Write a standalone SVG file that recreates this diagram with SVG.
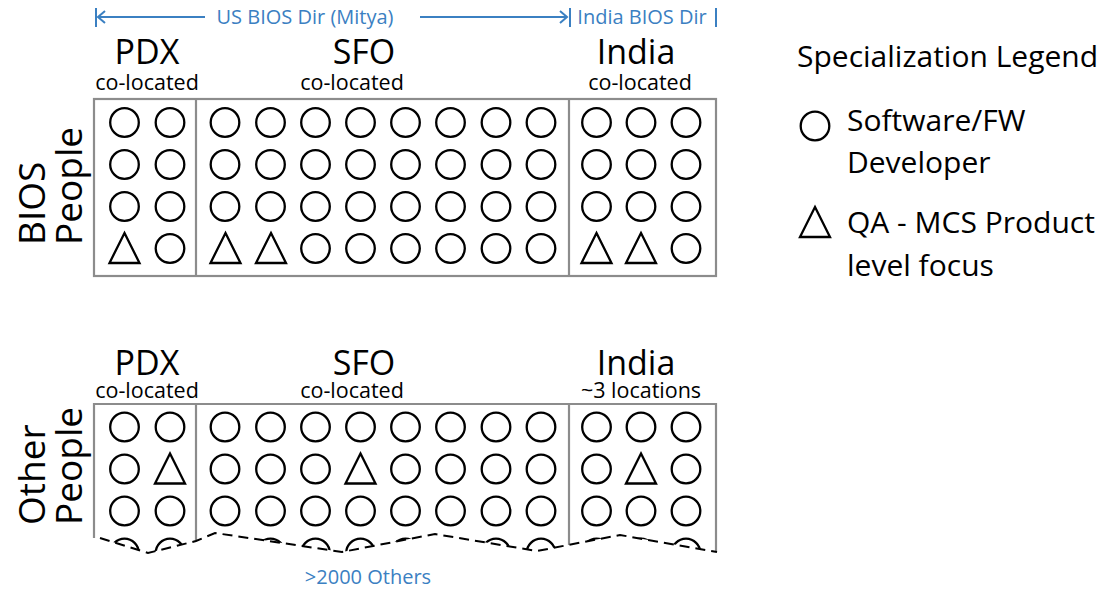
<svg xmlns="http://www.w3.org/2000/svg" width="1105" height="589" viewBox="0 0 1105 589">
<style>
text{font-family:"Open Sans","Noto Sans",sans-serif;fill:#000}
.blue{fill:#3b80c2;font-size:20px}
.bl{stroke:#3b80c2;stroke-width:2;fill:none}
.big{font-size:34px}
.sm{font-size:21.5px}
.side{font-size:37px}
.leg{font-size:30px}
.box{fill:none;stroke:#8c8c8c;stroke-width:2.2}
.c{fill:none;stroke:#000;stroke-width:2.3}
</style>
<defs>
<circle id="o" r="14.3" class="c"/>
<path id="t" d="M0,-15 L15,15 L-15,15 Z" class="c" stroke-linejoin="miter"/>
<clipPath id="torn"><path d="M80,390 L730,390 L730,552 L717,552 L620,535 L537,551 L435,534 L342,552 L215,533 L196,541 L148,553 L100,538 L80,538 Z"/></clipPath>
</defs>
<g id="header">
<path class="bl" d="M96,8 V27 M98,17 H205 M105,11 L98,17 L105,23 M420,17 H567 M560,11 L567,17 L560,23 M570,8 V27 M716,8 V27"/>
<text class="blue" x="305" y="24" text-anchor="middle">US BIOS Dir (Mitya)</text>
<text class="blue" x="642" y="24" text-anchor="middle">India BIOS Dir</text>
</g>
<g id="bios">
<text class="side" transform="translate(45,245) rotate(-90)">BIOS</text>
<text class="side" transform="translate(82,245) rotate(-90)">People</text>
<text class="big" x="147" y="64" text-anchor="middle">PDX</text>
<text class="sm" x="147" y="90" text-anchor="middle">co-located</text>
<text class="big" x="364" y="64" text-anchor="middle">SFO</text>
<text class="sm" x="352" y="90" text-anchor="middle">co-located</text>
<text class="big" x="636" y="64" text-anchor="middle">India</text>
<text class="sm" x="640" y="90" text-anchor="middle">co-located</text>
<rect class="box" x="94" y="99" width="622" height="177"/>
<path class="box" d="M196,99 V276 M569,99 V276"/>
<g id="bios-row1"><use href="#o" x="124.5" y="122.5"/><use href="#o" x="170" y="122.5"/><use href="#o" x="225" y="122.5"/><use href="#o" x="270.5" y="122.5"/><use href="#o" x="315.5" y="122.5"/><use href="#o" x="360.5" y="122.5"/><use href="#o" x="405.5" y="122.5"/><use href="#o" x="450.5" y="122.5"/><use href="#o" x="496" y="122.5"/><use href="#o" x="541" y="122.5"/><use href="#o" x="596.5" y="122.5"/><use href="#o" x="641" y="122.5"/><use href="#o" x="686" y="122.5"/></g>
<g id="bios-row2"><use href="#o" x="124.5" y="164.5"/><use href="#o" x="170" y="164.5"/><use href="#o" x="225" y="164.5"/><use href="#o" x="270.5" y="164.5"/><use href="#o" x="315.5" y="164.5"/><use href="#o" x="360.5" y="164.5"/><use href="#o" x="405.5" y="164.5"/><use href="#o" x="450.5" y="164.5"/><use href="#o" x="496" y="164.5"/><use href="#o" x="541" y="164.5"/><use href="#o" x="596.5" y="164.5"/><use href="#o" x="641" y="164.5"/><use href="#o" x="686" y="164.5"/></g>
<g id="bios-row3"><use href="#o" x="124.5" y="206.5"/><use href="#o" x="170" y="206.5"/><use href="#o" x="225" y="206.5"/><use href="#o" x="270.5" y="206.5"/><use href="#o" x="315.5" y="206.5"/><use href="#o" x="360.5" y="206.5"/><use href="#o" x="405.5" y="206.5"/><use href="#o" x="450.5" y="206.5"/><use href="#o" x="496" y="206.5"/><use href="#o" x="541" y="206.5"/><use href="#o" x="596.5" y="206.5"/><use href="#o" x="641" y="206.5"/><use href="#o" x="686" y="206.5"/></g>
<g id="bios-row4"><use href="#t" x="124.5" y="248"/><use href="#o" x="170" y="248.5"/><use href="#t" x="225.5" y="248"/><use href="#t" x="271" y="248"/><use href="#o" x="315.5" y="248.5"/><use href="#o" x="360.5" y="248.5"/><use href="#o" x="405.5" y="248.5"/><use href="#o" x="450.5" y="248.5"/><use href="#o" x="496" y="248.5"/><use href="#o" x="541" y="248.5"/><use href="#t" x="596.5" y="248"/><use href="#t" x="641" y="248"/><use href="#o" x="686" y="248.5"/></g>
</g>
<g id="other">
<text class="side" transform="translate(45,525) rotate(-90)">Other</text>
<text class="side" transform="translate(82,525) rotate(-90)">People</text>
<text class="big" x="147" y="375" text-anchor="middle">PDX</text>
<text class="sm" x="147" y="398" text-anchor="middle">co-located</text>
<text class="big" x="364" y="375" text-anchor="middle">SFO</text>
<text class="sm" x="352" y="398" text-anchor="middle">co-located</text>
<text class="big" x="636" y="375" text-anchor="middle">India</text>
<text class="sm" x="641" y="398" text-anchor="middle">~3 locations</text>
<g clip-path="url(#torn)">
<path class="box" d="M94,600 V404 H716 V600 M196,404 V600 M569,404 V600"/>
<g id="other-row4"><use href="#o" x="124.5" y="553"/><use href="#o" x="170" y="553"/><use href="#o" x="225" y="553"/><use href="#o" x="270.5" y="553"/><use href="#o" x="315.5" y="553"/><use href="#o" x="360.5" y="553"/><use href="#o" x="405.5" y="553"/><use href="#o" x="450.5" y="553"/><use href="#o" x="496" y="553"/><use href="#o" x="541" y="553"/><use href="#o" x="596.5" y="553"/><use href="#o" x="641" y="553"/><use href="#o" x="686" y="553"/></g>
</g>
<g id="other-row1"><use href="#o" x="124.5" y="427"/><use href="#o" x="170" y="427"/><use href="#o" x="225" y="427"/><use href="#o" x="270.5" y="427"/><use href="#o" x="315.5" y="427"/><use href="#o" x="360.5" y="427"/><use href="#o" x="405.5" y="427"/><use href="#o" x="450.5" y="427"/><use href="#o" x="496" y="427"/><use href="#o" x="541" y="427"/><use href="#o" x="596.5" y="427"/><use href="#o" x="641" y="427"/><use href="#o" x="686" y="427"/></g>
<g id="other-row2"><use href="#o" x="124.5" y="469"/><use href="#t" x="170" y="468.5"/><use href="#o" x="225" y="469"/><use href="#o" x="270.5" y="469"/><use href="#o" x="315.5" y="469"/><use href="#t" x="360.5" y="468.5"/><use href="#o" x="405.5" y="469"/><use href="#o" x="450.5" y="469"/><use href="#o" x="496" y="469"/><use href="#o" x="541" y="469"/><use href="#o" x="596.5" y="469"/><use href="#t" x="641" y="468.5"/><use href="#o" x="686" y="469"/></g>
<g id="other-row3"><use href="#o" x="124.5" y="511"/><use href="#o" x="170" y="511"/><use href="#o" x="225" y="511"/><use href="#o" x="270.5" y="511"/><use href="#o" x="315.5" y="511"/><use href="#o" x="360.5" y="511"/><use href="#o" x="405.5" y="511"/><use href="#o" x="450.5" y="511"/><use href="#o" x="496" y="511"/><use href="#o" x="541" y="511"/><use href="#o" x="596.5" y="511"/><use href="#o" x="641" y="511"/><use href="#o" x="686" y="511"/></g>
<path d="M100,538 L148,553 L196,541 L215,533 L342,552 L435,534 L537,551 L620,535 L717,552" fill="none" stroke="#000" stroke-width="2" stroke-dasharray="10,6"/>
<text class="blue" x="368" y="584" text-anchor="middle">&gt;2000 Others</text>
</g>
<g id="legend">
<text class="leg" x="797" y="67">Specialization Legend</text>
<use href="#o" x="815" y="126"/>
<text class="leg" x="847" y="131">Software/FW</text>
<text class="leg" x="847" y="173">Developer</text>
<use href="#t" x="815" y="222"/>
<text class="leg" x="847" y="233">QA - MCS Product</text>
<text class="leg" x="847" y="276">level focus</text>
</g>
</svg>
